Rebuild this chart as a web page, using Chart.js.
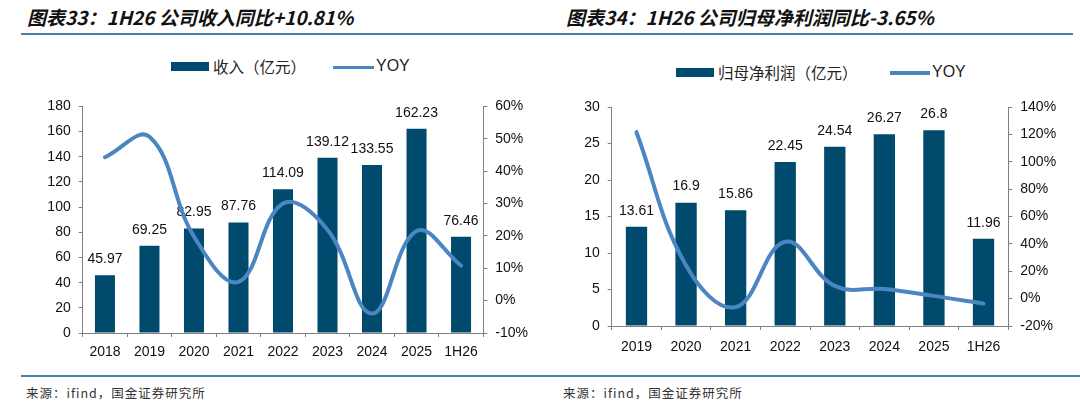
<!DOCTYPE html>
<html>
<head>
<meta charset="utf-8">
<script src="https://cdn.jsdelivr.net/npm/chart.js@4.4.1/dist/chart.umd.min.js"></script>
<style>
  html, body { margin: 0; padding: 0; background: #fff; }
  body { width: 1080px; height: 403px; position: relative; overflow: hidden; font-family: "Liberation Sans", Arial, sans-serif; }
  .title { position: absolute; top: 5px; font-family: "Noto Sans CJK SC", sans-serif; font-weight: bold; font-style: italic; font-size: 19px; line-height: 24px; color: #111; white-space: nowrap; }
  .rule { position: absolute; height: 2px; background: #4a7fa8; }
  .foot { position: absolute; top: 384px; font-family: "Noto Sans CJK SC", sans-serif; font-size: 12.5px; line-height: 18px; color: #333; letter-spacing: 1px; white-space: nowrap; }
  .box { position: absolute; height: 9px; background: #004A6E; }
  .lline { position: absolute; height: 3.5px; background: #4B86C2; }
  .ltext { position: absolute; font-family: "Noto Sans CJK SC", sans-serif; font-size: 15.5px; line-height: 20px; color: #222; white-space: nowrap; }
  .ltext.latin { font-family: "Liberation Sans", Arial, sans-serif; font-size: 16px; }
  .wrap { position: absolute; top: 90px; width: 540px; height: 280px; }
</style>
</head>
<body>
<div class="title" id="t1" style="left:27px;"></div>
<div class="title" id="t2" style="left:566px;"></div>
<div class="rule" style="left:21px; width:1052px; top:33px;"></div>

<div class="box" style="left:171px; top:62px; width:38px;"></div>
<div class="ltext" id="lg1" style="left:213px; top:56px;"></div>
<div class="lline" style="left:333px; top:65.5px; width:41px;"></div>
<div class="ltext latin" id="lg1b" style="left:376px; top:56px;"></div>

<div class="box" style="left:676px; top:68px; width:38px;"></div>
<div class="ltext" id="lg2" style="left:718px; top:62px;"></div>
<div class="lline" style="left:890px; top:71px; width:40px;"></div>
<div class="ltext latin" id="lg2b" style="left:932px; top:62px;"></div>

<div class="wrap" style="left:0px;"><canvas id="c1"></canvas></div>
<div class="wrap" style="left:540px;"><canvas id="c2"></canvas></div>

<div class="rule" style="left:21px; width:1059px; top:375px; height:1.5px;"></div>
<div class="foot" id="f1" style="left:26px;"></div>
<div class="foot" id="f2" style="left:563px;"></div>

<script>
// ---------- data ----------
const title1 = '图表33：1H26 公司收入同比+10.81%';
const title2 = '图表34：1H26 公司归母净利润同比-3.65%';

const revenueCategories = ['2018', '2019', '2020', '2021', '2022', '2023', '2024', '2025', '1H26'];
const revenueLabel = '收入（亿元）';
const revenueValues = [45.97, 69.25, 82.95, 87.76, 114.09, 139.12, 133.55, 162.23, 76.46];
const revenueYoyLabel = 'YOY';
const revenueYoy = [44.3, 50.6, 19.8, 5.8, 30.0, 21.9, -4.0, 21.5, 10.81];
const revenueLeftTicks = [0, 180, 20];     // min, max, step
const revenueRightTicks = [-10, 60, 10];   // %

const profitCategories = ['2019', '2020', '2021', '2022', '2023', '2024', '2025', '1H26'];
const profitLabel = '归母净利润（亿元）';
const profitValues = [13.61, 16.9, 15.86, 22.45, 24.54, 26.27, 26.8, 11.96];
const profitYoyLabel = 'YOY';
const profitYoy = [121.6, 24.2, -6.2, 41.6, 9.3, 7.0, 2.0, -3.65];
const profitLeftTicks = [0, 30, 5];
const profitRightTicks = [-20, 140, 20];

const sourceText = '来源：ifind，国金证券研究所';

// ---------- text ----------
document.getElementById('t1').textContent = title1;
document.getElementById('t2').textContent = title2;
document.getElementById('lg1').textContent = revenueLabel;
document.getElementById('lg1b').textContent = revenueYoyLabel;
document.getElementById('lg2').textContent = profitLabel;
document.getElementById('lg2b').textContent = profitYoyLabel;
document.getElementById('f1').textContent = sourceText;
document.getElementById('f2').textContent = sourceText;

const BAR = '#004A6E';
const LINE = '#4B86C2';
const AXIS = '#808080';
const FONT = '"Liberation Sans", Arial, sans-serif';

const barLabels = {
  id: 'barLabels',
  afterDatasetDraw(chart, args) {
    if (args.meta.type !== 'bar') return;
    const ctx = chart.ctx;
    ctx.save();
    ctx.font = '14px ' + FONT;
    ctx.fillStyle = '#111';
    ctx.textAlign = 'center';
    ctx.textBaseline = 'middle';
    const data = chart.data.datasets[args.index].data;
    args.meta.data.forEach((el, i) => {
      ctx.fillText(String(data[i]), el.x, el.y - 16);
    });
    ctx.restore();
  }
};

function makeChart(id, cats, bars, barName, yoy, yoyName, lt, rt, dims) {
  return new Chart(document.getElementById(id), {
    data: {
      labels: cats,
      datasets: [
        { type: 'line', label: yoyName, data: yoy, yAxisID: 'yr', borderColor: LINE, borderWidth: 4,
          pointRadius: 0, tension: 0.4, fill: false, order: 0, borderCapStyle: 'round' },
        { type: 'bar', label: barName, data: bars, yAxisID: 'y', backgroundColor: BAR,
          categoryPercentage: 1, barPercentage: dims.barPct, order: 1 }
      ]
    },
    options: {
      responsive: true,
      maintainAspectRatio: false,
      animation: false,
      layout: { padding: { top: dims.top, left: 0, right: 0, bottom: 0 } },
      plugins: { legend: { display: false }, tooltip: { enabled: false } },
      scales: {
        x: {
          grid: { display: true, drawOnChartArea: false, drawTicks: true, tickLength: 4, color: AXIS, offset: true },
          border: { display: true, color: AXIS, width: 1 },
          ticks: { font: { size: 14, family: FONT }, color: '#111', padding: dims.xpad, maxRotation: 0, autoSkip: false },
          afterFit: s => { s.height = dims.xh; }
        },
        y: {
          position: 'left', min: lt[0], max: lt[1],
          grid: { display: true, drawOnChartArea: false, drawTicks: true, tickLength: 4, color: AXIS },
          border: { display: true, color: AXIS, width: 1 },
          ticks: { stepSize: lt[2], font: { size: 14, family: FONT }, color: '#111', padding: 8 },
          afterFit: s => { s.width = dims.yl; }
        },
        yr: {
          position: 'right', min: rt[0], max: rt[1],
          grid: { display: true, drawOnChartArea: false, drawTicks: true, tickLength: 4, color: AXIS },
          border: { display: true, color: AXIS, width: 1 },
          ticks: { stepSize: rt[2], font: { size: 14, family: FONT }, color: '#111', padding: 8,
                   callback: v => v + '%' },
          afterFit: s => { s.width = dims.yr; }
        }
      }
    },
    plugins: [barLabels]
  });
}

makeChart('c1', revenueCategories, revenueValues, revenueLabel, revenueYoy, revenueYoyLabel,
  revenueLeftTicks, revenueRightTicks, { top: 9.8, xh: 37, yl: 82.7, yr: 56.7, barPct: 0.45, xpad: 7 });
makeChart('c2', profitCategories, profitValues, profitLabel, profitYoy, profitYoyLabel,
  profitLeftTicks, profitRightTicks, { top: 17, xh: 44, yl: 71.7, yr: 71.7, barPct: 0.43, xpad: 9 });
</script>
</body>
</html>
